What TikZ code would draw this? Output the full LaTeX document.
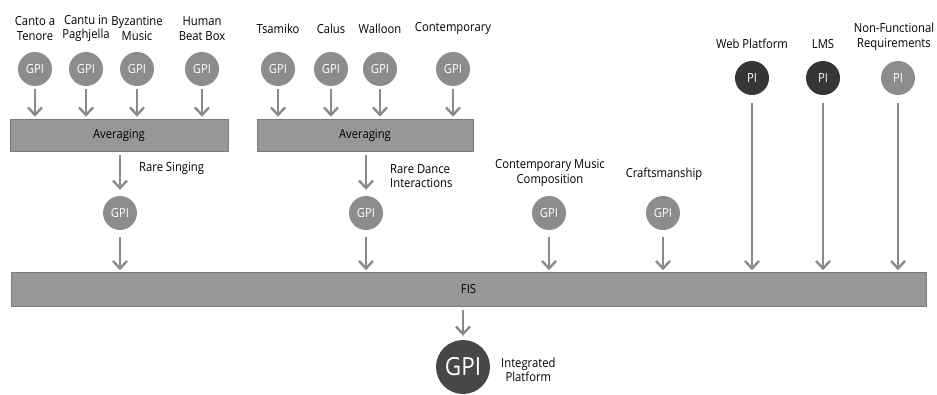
\documentclass[tikz,border=0pt]{standalone}
\usepackage{fontspec}
\setmainfont[FakeStretch=0.9]{Open Sans}
\usetikzlibrary{arrows.meta}
\definecolor{cgray}{HTML}{8C8C8C}
\definecolor{cdark}{HTML}{363636}
\definecolor{bgray}{HTML}{979797}
\definecolor{bdraw}{HTML}{7A7A7A}
\definecolor{agray}{HTML}{8A8A8A}
\newcommand{\fsz}[1]{\fontsize{#1}{14.5}\selectfont}
\tikzset{
  gpi/.style={circle, fill=cgray, text=white, minimum size=34pt, inner sep=0pt, font=\fsz{12.5}},
  pinode/.style={gpi, fill=cdark},
  lbl/.style={align=center, font=\fsz{12.5}, inner sep=0pt},
  barbox/.style={rectangle, fill=bgray, draw=bdraw, line width=0.6pt, inner sep=0pt, font=\fsz{12.5}},
  arr/.style={draw=agray, line width=2.4pt, -{Straight Barb[length=7.5pt,width=14pt,line width=2.4pt]}, shorten <=3pt, shorten >=2pt}
}
\begin{document}
\begin{tikzpicture}[x=1pt,y=-1pt]
\useasboundingbox (0,0) rectangle (937,394);
% top group 1
\foreach \n/\x/\t in {a1/35/{Canto a\\Tenore}, a2/86/{Cantu in\\Paghjella}, a3/137/{Byzantine\\Music}, a4/202/{Human\\Beat Box}}{
  \node[lbl] (l\n) at (\x,28.5) {\t};
  \node[gpi] (\n) at (\x,69) {GPI};
}
\foreach \n/\x/\t in {b1/278/{Tsamiko}, b2/331/{Calus}, b3/380/{Walloon}, b4/453/{Contemporary}}{
  \node[lbl] (l\n) at (\x,28.5) {\t};
  \node[gpi] (\n) at (\x,69) {GPI};
}
\node[barbox, minimum width=218pt, minimum height=32pt] (avg1) at (119,135) {Averaging};
\node[barbox, minimum width=216pt, minimum height=32pt] (avg2) at (365,135) {Averaging};
\foreach \n in {a1,a2,a3,a4}{ \draw[arr] (\n) -- (\n |- avg1.north); }
\foreach \n in {b1,b2,b3,b4}{ \draw[arr] (\n) -- (\n |- avg2.north); }
% middle
\node[gpi] (m1) at (120,213) {GPI};
\node[gpi] (m2) at (366,213) {GPI};
\node[gpi] (m3) at (549,213) {GPI};
\node[gpi] (m4) at (663,213) {GPI};
\node[lbl, anchor=west] (lm1) at (139,168) {Rare Singing};
\node[lbl, anchor=west, align=left] (lm2) at (390,176) {Rare Dance\\Interactions};
\node[lbl] (lm3) at (550,173) {Contemporary Music\\Composition};
\node[lbl] (lm4) at (664,174) {Craftsmanship};
\draw[arr, shorten <=4pt, shorten >=6pt] (avg1.south -| m1) -- (m1);
\draw[arr, shorten <=4pt, shorten >=6pt] (avg2.south -| m2) -- (m2);
% PI
\node[pinode] (p1) at (752,78) {PI};
\node[pinode] (p2) at (823,78) {PI};
\node[gpi] (p3) at (898,78) {PI};
\node[lbl] (lp1) at (752,44) {Web Platform};
\node[lbl] (lp2) at (823,44) {LMS};
\node[lbl] (lp3) at (894,37) {Non-Functional\\Requirements};
% FIS
\node[barbox, minimum width=915pt, minimum height=34pt] (fis) at (468.5,289.5) {FIS};
\foreach \n in {m1,m2,m3,m4}{ \draw[arr, shorten <=7pt] (\n) -- (\n |- fis.north); }
\foreach \n in {p1,p2,p3}{ \draw[arr, shorten <=8pt] (\n) -- (\n |- fis.north); }
% final
\node[gpi, fill=cdark!80!cgray, minimum size=54pt, font=\fsz{25}] (fin) at (463,367) {GPI};
\node[lbl, anchor=west] (lfin) at (501,370) {Integrated\\Platform};
\draw[arr, shorten >=4pt] (fis.south -| fin) -- (fin);
\end{tikzpicture}
\end{document}
